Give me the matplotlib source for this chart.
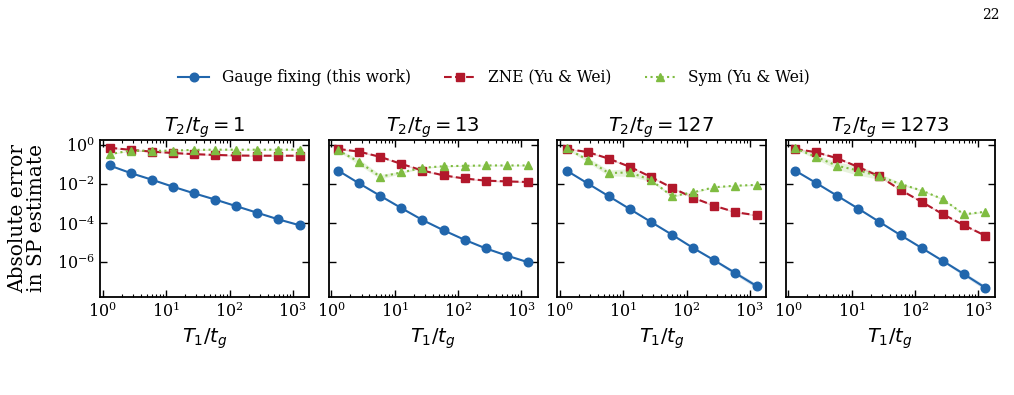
import numpy as np
import matplotlib
matplotlib.use("Agg")
import matplotlib.pyplot as plt
from matplotlib.ticker import LogLocator, NullLocator

plt.rcParams['font.family'] = ['DejaVu Serif']
plt.rcParams['mathtext.fontset'] = 'dejavusans'

# T1/tg values
t1 = [1.273, 2.74, 5.91, 12.73, 27.4, 59.1, 127.3, 274, 591, 1273]
titles = ["$T_2/t_g = 1$", "$T_2/t_g = 13$", "$T_2/t_g = 127$", "$T_2/t_g = 1273$"]

# log10 of absolute errors
gauge = [
    [-1.05, -1.44, -1.78, -2.14, -2.48, -2.80, -3.14, -3.48, -3.82, -4.12],
    [-1.31, -1.97, -2.61, -3.24, -3.85, -4.38, -4.87, -5.31, -5.68, -6.02],
    [-1.31, -1.97, -2.63, -3.29, -3.95, -4.61, -5.29, -5.92, -6.58, -7.24],
    [-1.31, -1.95, -2.61, -3.27, -3.95, -4.63, -5.29, -5.95, -6.63, -7.32],
]
zne = [
    [-0.14, -0.25, -0.34, -0.41, -0.47, -0.51, -0.54, -0.55, -0.55, -0.55],
    [-0.20, -0.34, -0.61, -0.97, -1.31, -1.56, -1.72, -1.83, -1.87, -1.90],
    [-0.20, -0.36, -0.70, -1.12, -1.64, -2.20, -2.71, -3.12, -3.45, -3.61],
    [-0.20, -0.37, -0.68, -1.13, -1.61, -2.31, -2.92, -3.55, -4.12, -4.65],
]
sym = [
    [-0.47, -0.29, -0.30, -0.29, -0.25, -0.24, -0.24, -0.24, -0.24, -0.24],
    [-0.27, -0.87, -1.63, -1.41, -1.17, -1.09, -1.07, -1.05, -1.05, -1.05],
    [-0.17, -0.76, -1.44, -1.41, -1.80, -2.63, -2.43, -2.17, -2.09, -2.05],
    [-0.17, -0.61, -1.07, -1.31, -1.61, -2.00, -2.34, -2.78, -3.56, -3.43],
]
# half-width of the shaded spread (decades)
gauge_spread = [
    [0.02] * 10,
    [0.03] * 10,
    [0.03, 0.03, 0.03, 0.03, 0.03, 0.03, 0.04, 0.06, 0.10, 0.12],
    [0.03, 0.03, 0.03, 0.03, 0.03, 0.03, 0.04, 0.06, 0.10, 0.12],
]
zne_spread = [
    [0.03] * 10,
    [0.04] * 10,
    [0.04] * 10,
    [0.04] * 10,
]
sym_spread = [
    [0.03] * 10,
    [0.05, 0.15, 0.12, 0.06, 0.04, 0.03, 0.03, 0.03, 0.03, 0.03],
    [0.05, 0.12, 0.15, 0.20, 0.08, 0.05, 0.04, 0.03, 0.03, 0.03],
    [0.05, 0.12, 0.18, 0.25, 0.15, 0.06, 0.04, 0.04, 0.05, 0.04],
]

c_blue = '#2166ac'
c_red = '#b2182b'
c_green = '#7fbc41'

fig = plt.figure(figsize=(10.14, 3.95), dpi=100)
W, H = 1014, 395
lefts = [100, 328.5, 557, 785.5]
axw, top, bot = 209, 140, 297
axes = []
for i, l in enumerate(lefts):
    ax = fig.add_axes([l / W, 1 - bot / H, axw / W, (bot - top) / H],
                      sharey=axes[0] if axes else None)
    axes.append(ax)

x = np.array(t1)
for i, ax in enumerate(axes):
    for data, spread, col, mk, ls, lab in [
        (gauge, gauge_spread, c_blue, 'o', '-', 'Gauge fixing (this work)'),
        (zne, zne_spread, c_red, 's', '--', 'ZNE (Yu & Wei)'),
        (sym, sym_spread, c_green, '^', ':', 'Sym (Yu & Wei)'),
    ]:
        y = np.array(data[i])
        s = np.array(spread[i])
        ax.fill_between(x, 10 ** (y - s), 10 ** (y + s), color=col, alpha=0.18, lw=0)
        ax.plot(x, 10 ** y, color=col, marker=mk, ls=ls, lw=1.5, ms=6.2, label=lab)
    ax.set_xscale('log')
    ax.set_yscale('log')
    ax.set_title(titles[i], fontsize=14, pad=6)
    ax.set_xlabel('$T_1/t_g$', fontsize=14)
    ax.tick_params(which='both', direction='in', top=True, right=True, labelsize=11.5)
    ax.tick_params(which='major', length=5, width=1)
    ax.tick_params(which='minor', length=2.5, width=0.8)
    ax.xaxis.set_major_locator(LogLocator(base=10, numticks=10))
    ax.xaxis.set_minor_locator(LogLocator(base=10, subs=np.arange(2, 10), numticks=20))
    for sp in ax.spines.values():
        sp.set_linewidth(1.3)
    if i > 0:
        ax.tick_params(labelleft=False)

axes[0].set_yticks([1e0, 1e-2, 1e-4, 1e-6])
axes[0].yaxis.set_minor_locator(NullLocator())
axes[0].set_ylabel('Absolute error\nin SP estimate', fontsize=14.5, linespacing=1.0,
                   labelpad=7.5)

handles, labels = axes[0].get_legend_handles_labels()
fig.legend(handles, labels, loc='center', bbox_to_anchor=(494 / W, 1 - 78 / H),
           ncol=3, frameon=False, fontsize=11.2, columnspacing=2.15, handlelength=2.0)

fig.text(1000 / W, 1 - 15 / H, '22', ha='right', va='center', fontsize=10)

fig.savefig('out.png', dpi=100)
